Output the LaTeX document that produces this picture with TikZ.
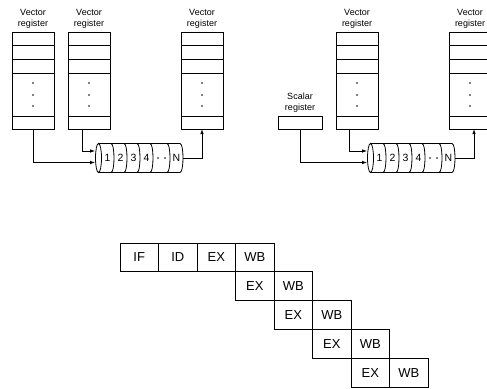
\documentclass[tikz,border=0pt]{standalone}
\usepackage{fontspec}
\setmainfont{Liberation Sans}
\usetikzlibrary{positioning, arrows.meta, shapes.geometric, calc}

% rows and dots inside a vector register
\newcommand{\regrows}[1]{%
  \foreach \dy in {13,27,41,84} \draw (#1.north west) ++(0,\dy) -- ++(42,0);
  \foreach \dy in {51,63,74} \fill ($(#1.north)+(0,\dy)$) circle (0.9pt);
}

\begin{document}
\begin{tikzpicture}[
  x=1pt, y=-1pt,
  line width=0.8pt,
  lbl/.style={align=center, inner sep=0pt, font=\fontsize{9}{10.5}\selectfont},
  vreg/.style={draw, minimum width=42pt, minimum height=97pt, inner sep=0pt, outer sep=0pt},
  sreg/.style={draw, minimum width=44pt, minimum height=13pt, inner sep=0pt, outer sep=0pt},
  seg/.style={inner sep=0pt, font=\fontsize{10.5}{10.5}\selectfont},
  cell/.style={draw, minimum width=38.5pt, minimum height=28.8pt, inner sep=0pt, outer sep=0pt, font=\fontsize{13}{13}\selectfont},
  conn/.style={draw, -{Latex[length=5pt, width=3.5pt]}}
]
\useasboundingbox (0,0) rectangle (487,388);
\clip (0,0) rectangle (487,388);

% vector-vector unit
\node[vreg] (va) at (33,80.5) {};
\node[vreg] (vb) at (89,80.5) {};
\node[vreg] (vc) at (202,80.5) {};
\regrows{va} \regrows{vb} \regrows{vc}
\node[lbl, above=3.5pt of va] (lva) {Vector\\register};
\node[lbl, above=3.5pt of vb] (lvb) {Vector\\register};
\node[lbl, above=3.5pt of vc] (lvc) {Vector\\register};

% scalar-vector unit
\node[sreg] (sr) at (300,122.5) {};
\node[vreg] (vd) at (357,80.5) {};
\node[vreg] (ve) at (470,80.5) {};
\regrows{vd} \regrows{ve}
\node[lbl, above=3.5pt of sr] (lsr) {Scalar\\register};
\node[lbl, above=3.5pt of vd] (lvd) {Vector\\register};
\node[lbl, above=3.5pt of ve] (lve) {Vector\\register};

% pipes
\foreach \s/\p in {0/L, 272/R} {
  \begin{scope}[xshift=\s]
    \node[draw, ellipse, minimum width=6pt, minimum height=29pt, inner sep=0pt] (in\p) at (98.5,158) {};
    \draw (98.5,143.5) -- (180,143.5) (98.5,172.5) -- (180,172.5);
    \foreach \b in {114,127,140,153,170,183}
      \draw (\b-3,143.5) .. controls (\b+1,143.5) and (\b+1,172.5) .. (\b-3,172.5);
    \foreach \t/\x in {1/107.5, 2/120.5, 3/133.5, 4/146.5, N/176.5}
      \node[seg] (s\t\p) at (\x,158) {\t};
    \fill (158,158) circle (0.9pt) (165,158) circle (0.9pt);
    \coordinate (out\p) at (183,158);
  \end{scope}
}

% connectors
\draw[conn] (va.south) |- ([yshift=-4.5pt]inL.west);
\draw[conn] ([xshift=-7pt]vb.south) |- ([yshift=7pt]inL.west);
\draw[conn] (outL) -| (vc.south);
\draw[conn] (sr.south) |- ([yshift=-4.5pt]inR.west);
\draw[conn] ([xshift=-7.5pt]vd.south) |- ([yshift=7pt]inR.west);
\draw[conn] (outR) -| ([xshift=4pt]ve.south);

% pipeline timing
\node[cell] (if) at (139.25,257.4) {IF};
\node[cell, right=0pt of if] (id) {ID};
\node[cell, right=0pt of id] (ex0) {EX};
\node[cell, right=0pt of ex0] (wb0) {WB};
\foreach \i [count=\j from 0] in {1,...,4} {
  \node[cell, below=0pt of wb\j] (ex\i) {EX};
  \node[cell, right=0pt of ex\i] (wb\i) {WB};
}
\end{tikzpicture}
\end{document}
